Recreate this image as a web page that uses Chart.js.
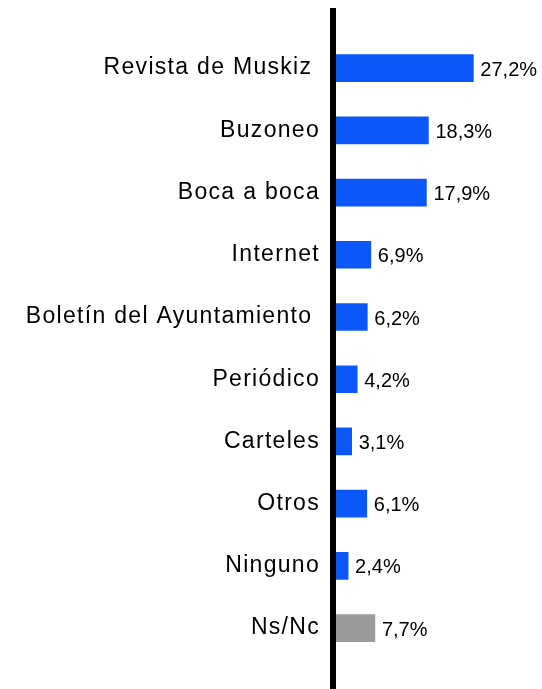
<!DOCTYPE html>
<html>
<head>
<meta charset="utf-8">
<script src="https://cdn.jsdelivr.net/npm/chart.js@4/dist/chart.umd.min.js"></script>
<style>
  html, body { margin: 0; padding: 0; background: #fff; }
  canvas { display: block; }
</style>
</head>
<body>
<canvas id="barChart" width="542" height="689"></canvas>
<script>
const categories = [
  'Revista de Muskiz ', 'Buzoneo', 'Boca a boca', 'Internet',
  'Boletín del Ayuntamiento ', 'Periódico', 'Carteles', 'Otros',
  'Ninguno', 'Ns/Nc'
];
const values = [27.2, 18.3, 17.9, 6.9, 6.2, 4.2, 3.1, 6.1, 2.4, 7.7];
const barColors = values.map((v, i) => i === values.length - 1 ? '#9a9a9a' : '#0b57f7');

const FONT = "'Liberation Sans', Arial, sans-serif";

// letter spacing for the category labels only
const spacing = {
  id: 'spacing',
  beforeDraw(chart) { chart.ctx.letterSpacing = '1.3px'; },
  beforeDatasetsDraw(chart) { chart.ctx.letterSpacing = '0px'; }
};

// thick vertical axis line + value labels
const extras = {
  id: 'extras',
  afterDatasetsDraw(chart) {
    const ctx = chart.ctx;
    const x0 = chart.scales.x.getPixelForValue(0);
    ctx.save();
    ctx.fillStyle = '#000';
    ctx.fillRect(x0 - 6, 8, 6, chart.height - 8);

    ctx.font = `20px ${FONT}`;
    ctx.textAlign = 'left';
    ctx.textBaseline = 'middle';
    chart.getDatasetMeta(0).data.forEach((bar, i) => {
      const txt = values[i].toFixed(1).replace('.', ',') + '%';
      ctx.fillText(txt, bar.x + 7, bar.y + 2);
    });
    ctx.restore();
  }
};

new Chart(document.getElementById('barChart'), {
  type: 'bar',
  data: {
    labels: categories,
    datasets: [{
      data: values,
      backgroundColor: barColors,
      barThickness: 27,
      borderWidth: 0
    }]
  },
  options: {
    indexAxis: 'y',
    responsive: false,
    animation: false,
    layout: { padding: { top: 37, bottom: 22, left: 0, right: 4 } },
    plugins: { legend: { display: false }, tooltip: { enabled: false } },
    scales: {
      x: {
        display: false,
        min: 0,
        max: 40
      },
      y: {
        afterFit(s) { s.width = 336; },
        grid: { display: false, drawTicks: false },
        border: { display: false },
        ticks: {
          padding: 16,
          color: '#000',
          font: { family: FONT, size: 23 }
        }
      }
    }
  },
  plugins: [spacing, extras]
});
</script>
</body>
</html>
